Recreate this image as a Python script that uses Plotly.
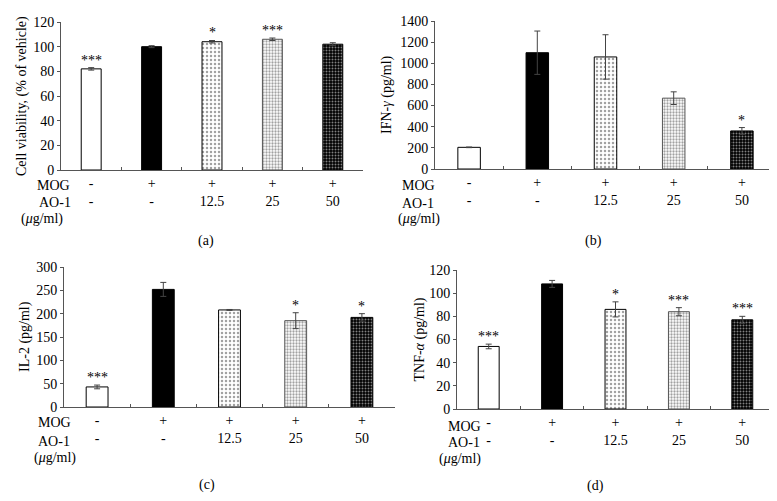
import plotly.graph_objects as go

W, H = 777, 501

mog_labels = ["-", "+", "+", "+", "+"]
ao1_labels = ["-", "-", "12.5", "25", "50"]

viability = [82, 100, 104, 106, 102]
viability_err = [1.0, 0.8, 1.0, 1.0, 1.2]
viability_sig = ["***", "", "*", "***", ""]

ifng = [205, 1100, 1060, 670, 360]
ifng_err = [3, 205, 210, 60, 32]
ifng_sig = ["", "", "", "", "*"]

il2 = [43, 252, 208, 185, 192]
il2_err = [4, 15, 1, 17, 8]
il2_sig = ["***", "", "", "*", "*"]

tnfa = [54, 108, 86, 84, 77]
tnfa_err = [2, 3, 6.5, 3.5, 3]
tnfa_sig = ["***", "", "*", "***", "***"]

categories = [f"{m}<br>{a}" for m, a in zip(mog_labels, ao1_labels)]

FONT = "Liberation Serif"
FS = 14

# bar styles
bg_colors = ["white", "black", "white", "white", "black"]
fg_colors = ["black", "black", "black", "#333333", "white"]
shapes = ["", "", ".", ".", "."]
psizes = [4, 4, 4, 3, 3]
psolid = [0.3, 0.3, 0.3, 0.45, 0.35]
line_colors = ["black", "black", "black", "#555555", "black"]

panels = [
    dict(v=viability, e=viability_err, s=viability_sig, xd=(53, 355), yd=(14, 162), rng=120, dt=20,
         title="Cell viability, (% of vehicle)", tx=14, lab="(a)", lx=198, ly=233,
         rows=[(45, 177, "MOG"), (47, 194, "AO-1"), (34, 211, "(<i>μ</i>g/ml)")]),
    dict(v=ifng, e=ifng_err, s=ifng_sig, xd=(427, 768), yd=(13, 161), rng=1400, dt=200,
         title="IFN-<i>γ</i> (pg/ml)", tx=379, lab="(b)", lx=585, ly=233,
         rows=[(410, 177, "MOG"), (410, 195, "AO-1"), (411, 211, "(<i>μ</i>g/ml)")]),
    dict(v=il2, e=il2_err, s=il2_sig, xd=(56, 387), yd=(259, 399), rng=300, dt=50,
         title="IL-2 (pg/ml)", tx=17, lab="(c)", lx=199, ly=477,
         rows=[(46, 414, "MOG"), (46, 433, "AO-1"), (47, 450, "(<i>μ</i>g/ml)")]),
    dict(v=tnfa, e=tnfa_err, s=tnfa_sig, xd=(449, 766), yd=(262, 401), rng=120, dt=20,
         title="TNF-<i>α</i> (pg/ml)", tx=411, lab="(d)", lx=587, ly=478,
         rows=[(456, 418, "MOG"), (456, 434, "AO-1"), (452, 451, "(<i>μ</i>g/ml)")]),
]

fig = go.Figure()
annotations = []


def paper_note(x, y, text, angle=0):
    return dict(x=x / W, y=1 - y / H, xref="paper", yref="paper", text=text,
                textangle=angle, showarrow=False, xanchor="center", yanchor="middle",
                font=dict(family=FONT, size=FS, color="black"))


for i, p in enumerate(panels):
    n = i + 1
    xa = "x" if n == 1 else f"x{n}"
    ya = "y" if n == 1 else f"y{n}"
    fig.add_trace(go.Bar(
        x=categories, y=p["v"], xaxis=xa, yaxis=ya, width=0.33,
        marker=dict(color=bg_colors, line=dict(color=line_colors, width=1),
                    pattern=dict(shape=shapes, fgcolor=fg_colors, bgcolor=bg_colors,
                                 size=psizes, solidity=psolid)),
        error_y=dict(type="data", array=p["e"], color="#444444", thickness=1, width=3),
        showlegend=False, hoverinfo="skip",
    ))
    xkey = "xaxis" if n == 1 else f"xaxis{n}"
    ykey = "yaxis" if n == 1 else f"yaxis{n}"
    fig.update_layout(**{
        xkey: dict(domain=[p["xd"][0] / W, p["xd"][1] / W], anchor=ya, automargin=False,
                   type="category", tickson="boundaries", ticks="inside", ticklen=3,
                   tickcolor="#555555", showline=True, linecolor="#555555", linewidth=1,
                   showgrid=False, tickfont=dict(family=FONT, size=FS, color="black")),
        ykey: dict(domain=[1 - p["yd"][1] / H, 1 - p["yd"][0] / H], anchor=xa, automargin=False,
                   range=[0, p["rng"]], dtick=p["dt"], ticks="outside", ticklen=3,
                   tickcolor="#555555", showline=True, linecolor="#555555", linewidth=1,
                   showgrid=False, zeroline=False,
                   tickfont=dict(family=FONT, size=FS, color="black")),
    })
    for c, v, e, s in zip(categories, p["v"], p["e"], p["s"]):
        if s:
            annotations.append(dict(x=c, y=v + e, xref=xa, yref=ya, text=s, showarrow=False,
                                    xanchor="center", yanchor="bottom", yshift=-2,
                                    font=dict(family=FONT, size=FS, color="black")))
    ymid = (p["yd"][0] + p["yd"][1]) / 2
    annotations.append(paper_note(p["tx"], ymid, p["title"], -90))
    annotations.append(paper_note(p["lx"], p["ly"], p["lab"]))
    for rx, ry, rt in p["rows"]:
        annotations.append(paper_note(rx, ry, rt))

fig.update_layout(width=W, height=H, margin=dict(l=0, r=0, t=0, b=0),
                  paper_bgcolor="white", plot_bgcolor="white",
                  annotations=annotations, bargap=0.67)

fig.write_html("out.html")
